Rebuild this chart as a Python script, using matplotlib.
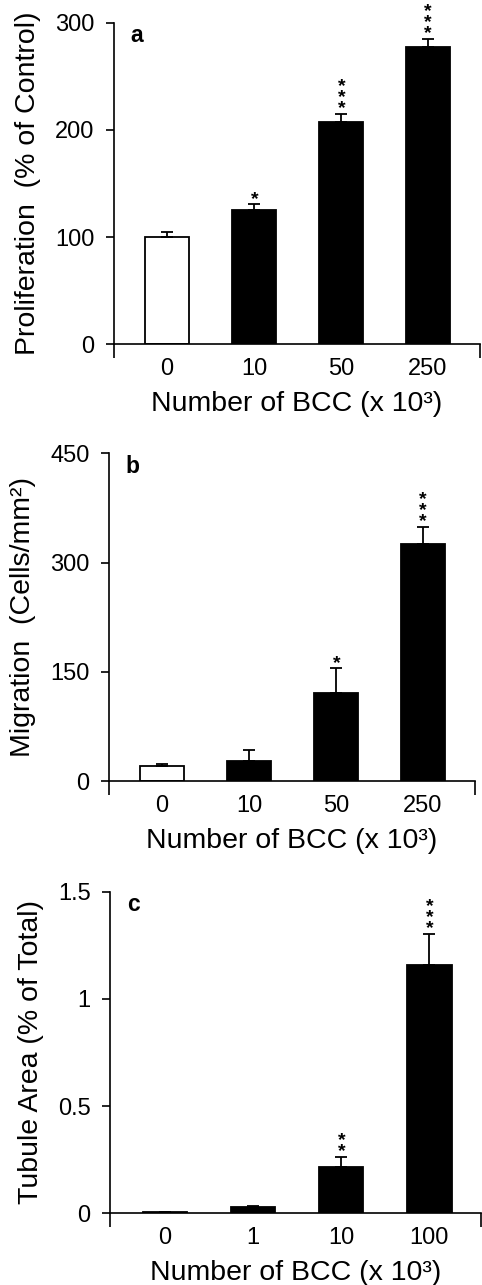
import matplotlib
matplotlib.use("Agg")
import matplotlib.pyplot as plt

plt.rcParams["font.family"] = ["Liberation Sans", "DejaVu Sans"]

# panel a: proliferation
a_labels = ["0", "10", "50", "250"]
a_vals = [100, 125, 207, 277]
a_err = [4.5, 5.5, 8, 8]
a_stars = [0, 1, 3, 3]

# panel b: migration
b_labels = ["0", "10", "50", "250"]
b_vals = [20, 27, 121, 325]
b_err = [3, 15, 34, 24]
b_stars = [0, 0, 1, 3]

# panel c: tubule area
c_labels = ["0", "1", "10", "100"]
c_vals = [0.008, 0.03, 0.217, 1.158]
c_err = [0.0, 0.004, 0.046, 0.145]
c_stars = [0, 0, 2, 3]

W, H = 482, 1285
TICK_FS, LAB_FS = 17, 20.5
PX = 0.72  # points per pixel at dpi 100


def panel(rect, labels, vals, errs, stars, ymax, yticks, yticklabels, ylabel, letter,
          xlim=(-0.61, 3.6)):
    ax = fig.add_axes(rect)
    x = list(range(len(vals)))
    colors = ["white"] + ["black"] * (len(vals) - 1)
    ax.bar(x, vals, width=0.51, color=colors, edgecolor="black", linewidth=1.3, zorder=2)
    ax.errorbar(x, vals, yerr=[[0] * len(errs), errs], fmt="none", ecolor="black",
                elinewidth=1.3, capsize=4.5, capthick=1.3, zorder=3)
    # significance asterisks stacked in one column above the error bar
    for xi, v, e, n in zip(x, vals, errs, stars):
        if n:
            ax.annotate("\n".join(["*"] * n), (xi, v + e), xytext=(0.3, -3.5 * PX),
                        textcoords="offset points", ha="center", va="bottom",
                        fontsize=14, fontweight="bold", linespacing=0.55)
    ax.set_xlim(*xlim)
    ax.set_ylim(0, ymax)
    for sp in ("top", "right"):
        ax.spines[sp].set_visible(False)
    for sp in ("left", "bottom"):
        ax.spines[sp].set_linewidth(1.2)
    ax.set_yticks(yticks)
    ax.set_yticklabels(yticklabels)
    ax.tick_params(axis="y", direction="out", length=6, width=1.2, pad=8, labelsize=TICK_FS)
    # boundary ticks on x, category labels as unmarked minor ticks
    ax.set_xticks(list(xlim))
    ax.set_xticklabels([])
    ax.tick_params(axis="x", which="major", direction="out", length=10, width=1.2)
    ax.set_xticks(x, minor=True)
    ax.set_xticklabels(labels, minor=True)
    ax.tick_params(axis="x", which="minor", length=0, pad=10, labelsize=TICK_FS)
    ax.set_xlabel("Number of BCC (x 10³)", fontsize=LAB_FS, labelpad=8)
    ax.set_ylabel(ylabel, fontsize=LAB_FS, labelpad=10)
    ax.text(0.045, 0.995, letter, transform=ax.transAxes, fontsize=16.5, fontweight="bold",
            ha="left", va="top")
    return ax


fig = plt.figure(figsize=(W / 100, H / 100), dpi=100)

panel([114 / W, 1 - 344.3 / H, 366 / W, 321.6 / H], a_labels, a_vals, a_err, a_stars,
      300, [0, 100, 200, 300], ["0", "100", "200", "300"],
      "Proliferation  (% of Control)", "a")
panel([109 / W, 1 - 781 / H, 366 / W, 327.7 / H], b_labels, b_vals, b_err, b_stars,
      450, [0, 150, 300, 450], ["0", "150", "300", "450"],
      "Migration  (Cells/mm²)", "b")
panel([110 / W, 1 - 1213.3 / H, 371 / W, 321.6 / H], c_labels, c_vals, c_err, c_stars,
      1.5, [0, 0.5, 1, 1.5], ["0", "0.5", "1", "1.5"],
      "Tubule Area (% of Total)", "c", xlim=(-0.625, 3.59))

fig.savefig("out.png", dpi=100)
